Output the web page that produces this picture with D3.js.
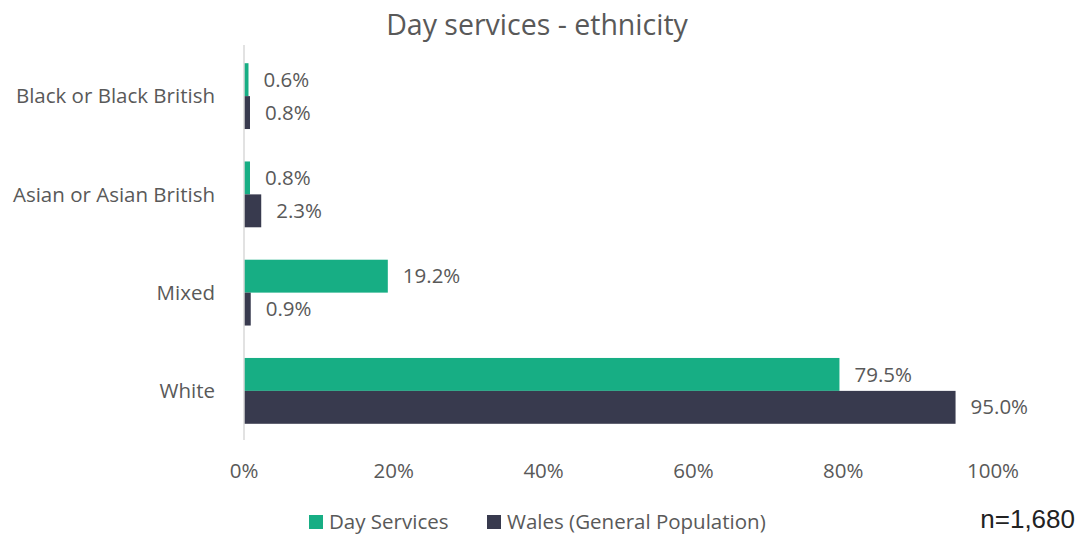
<!DOCTYPE html>
<meta charset="utf-8">
<style>
  body { margin: 0; background: #fff; }
  text { font-family: "Open Sans", "Noto Sans", sans-serif; fill: #595959; }
</style>
<svg width="1083" height="535"></svg>
<script src="https://d3js.org/d3.v7.min.js"></script>
<script>
var categories = ["Black or Black British", "Asian or Asian British", "Mixed", "White"];
var series = ["Day Services", "Wales (General Population)"];
var dayServices = [0.6, 0.8, 19.2, 79.5];
var wales = [0.8, 2.3, 0.9, 95.0];
var ticks = [0, 20, 40, 60, 80, 100];
var colors = ["#17ae84", "#383a4e"];

var svg = d3.select("svg"),
    margin = {top: 47, left: 244, right: 90, bottom: 95},
    width = +svg.attr("width"),
    height = +svg.attr("height");

var x = d3.scaleLinear().domain([0, 100]).range([margin.left, 993]);
var y = d3.scaleBand().domain(categories).range([margin.top, 440]).paddingInner(0.33).paddingOuter(0.165);
var y1 = d3.scaleBand().domain(series).range([0, y.bandwidth()]);

svg.append("text")
    .attr("x", 537).attr("y", 35)
    .attr("text-anchor", "middle")
    .style("font-size", "28.5px")
    .text("Day services - ethnicity");

// category labels
svg.selectAll(".cat")
  .data(categories)
  .enter().append("text")
    .attr("x", 215)
    .attr("y", function(d) { return y(d) + y.bandwidth() / 2; })
    .attr("dy", "0.35em")
    .attr("text-anchor", "end")
    .style("font-size", "20.5px")
    .text(function(d) { return d; });

// tick labels
svg.selectAll(".tick")
  .data(ticks)
  .enter().append("text")
    .attr("x", function(d) { return x(d); })
    .attr("y", 478)
    .attr("text-anchor", "middle")
    .style("font-size", "20.5px")
    .text(function(d) { return d + "%"; });

var rows = categories.map(function(c, i) {
  return [{s: series[0], v: dayServices[i], c: c}, {s: series[1], v: wales[i], c: c}];
});

var g = svg.selectAll(".grp")
  .data(rows)
  .enter().append("g")
    .attr("transform", function(d) { return "translate(0," + y(d[0].c) + ")"; });

g.selectAll("rect")
  .data(function(d) { return d; })
  .enter().append("rect")
    .attr("x", x(0))
    .attr("y", function(d) { return y1(d.s); })
    .attr("width", function(d) { return x(d.v) - x(0); })
    .attr("height", y1.bandwidth())
    .attr("fill", function(d, i) { return colors[i]; });

g.selectAll("text")
  .data(function(d) { return d; })
  .enter().append("text")
    .attr("x", function(d) { return x(d.v) + 15; })
    .attr("y", function(d) { return y1(d.s) + y1.bandwidth() / 2; })
    .attr("dy", "0.35em")
    .style("font-size", "20.5px")
    .text(function(d) { return d.v.toFixed(1) + "%"; });

// axis line
svg.append("line")
    .attr("x1", x(0)).attr("x2", x(0))
    .attr("y1", 45).attr("y2", 440)
    .attr("stroke", "#d9d9d9").attr("stroke-width", 1.5);

// legend
var legX = [309, 487];
var leg = svg.selectAll(".leg")
  .data(series)
  .enter().append("g")
    .attr("transform", function(d, i) { return "translate(" + legX[i] + ",515)"; });
leg.append("rect").attr("width", 14).attr("height", 14)
    .attr("fill", function(d, i) { return colors[i]; });
leg.append("text").attr("x", 20).attr("y", 7).attr("dy", "0.35em")
    .style("font-size", "20.5px")
    .text(function(d) { return d; });

svg.append("text")
    .attr("x", 1075).attr("y", 528)
    .attr("text-anchor", "end")
    .style("font-family", "'Liberation Sans', Arial, sans-serif")
    .style("font-size", "26px")
    .style("fill", "#222")
    .text("n=1,680");
</script>
